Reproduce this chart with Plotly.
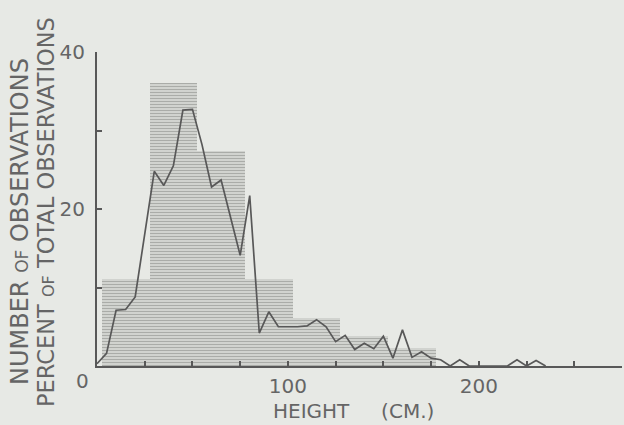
import plotly.graph_objects as go

# Frequency polygon: number of observations per 5 cm height class
height_cm = [0, 5, 10, 15, 20, 25, 30, 35, 40, 45, 50, 55, 60, 65, 70, 75, 80, 85,
             90, 95, 100, 105, 110, 115, 120, 125, 130, 135, 140, 145, 150, 155,
             160, 165, 170, 175, 180, 185, 190, 195, 200, 205, 210, 215, 220, 225,
             230, 235]
observations = [0.3, 1.6, 7.1, 7.2, 8.8, 17.0, 24.8, 23.0, 25.5, 32.6, 32.7, 28.2,
                22.8, 23.7, 18.9, 14.1, 21.7, 4.2, 6.9, 5.0, 5.0, 5.0, 5.1, 5.9,
                5.0, 3.1, 3.9, 2.1, 2.9, 2.2, 3.8, 1.0, 4.6, 1.1, 1.8, 1.0, 0.8,
                0.0, 0.8, 0.0, 0.0, 0.0, 0.0, 0.0, 0.8, 0.0, 0.7, 0.0]

# Histogram: percent of total observations per 25 cm class
class_centers = [15, 40, 65, 90, 115, 140, 165]
class_percent = [11.1, 36.0, 27.4, 11.1, 6.1, 3.8, 2.3]
class_width = 25

x_tick_vals = [0, 25, 50, 75, 100, 125, 150, 175, 200, 225, 250, 275]
x_tick_text = ["", "", "", "", "100", "", "", "", "200", "", "", ""]
y_tick_vals = [0, 10, 20, 30, 40]
y_tick_text = ["", "", "20", "", "40"]

BG = "#e7e9e5"
INK = "#585858"
TEXT = "#656565"
FONT = "DejaVu Sans"
LABEL = dict(family=FONT, color=TEXT)

fig = go.Figure()

fig.add_trace(go.Bar(
    x=class_centers,
    y=class_percent,
    width=[class_width] * len(class_centers),
    marker=dict(
        color=BG,
        line=dict(width=0),
        pattern=dict(shape="-", size=3, solidity=0.45,
                     fgcolor="#7c7d7a", bgcolor="#d9dbd7", fillmode="overlay"),
    ),
    cliponaxis=False,
    showlegend=False,
))

fig.add_trace(go.Scatter(
    x=height_cm,
    y=observations,
    mode="lines",
    line=dict(color=INK, width=1.7),
    cliponaxis=False,
    showlegend=False,
))

fig.update_layout(
    width=624,
    height=425,
    margin=dict(l=97, r=2, t=52, b=59),
    paper_bgcolor=BG,
    plot_bgcolor=BG,
    bargap=0,
    font=dict(size=20, **LABEL),
    xaxis=dict(
        range=[0, 275],
        tickmode="array",
        tickvals=x_tick_vals,
        ticktext=x_tick_text,
        ticks="inside",
        ticklen=5,
        tickwidth=1.5,
        tickcolor=INK,
        showline=True,
        linecolor=INK,
        linewidth=2,
        showgrid=False,
        zeroline=False,
        ticklabelstandoff=1,
        tickfont=dict(size=20, **LABEL),
    ),
    yaxis=dict(
        range=[0, 40],
        tickmode="array",
        tickvals=y_tick_vals,
        ticktext=y_tick_text,
        ticks="inside",
        ticklen=5,
        tickwidth=1.5,
        tickcolor=INK,
        showline=True,
        linecolor=INK,
        linewidth=2,
        showgrid=False,
        zeroline=False,
        ticklabelstandoff=6,
        tickfont=dict(size=20, **LABEL),
    ),
    annotations=[
        # origin label
        dict(x=0, y=0, xref="x", yref="y", text="0", showarrow=False,
             xanchor="right", yanchor="middle", xshift=-6, yshift=-15,
             font=dict(size=20, **LABEL)),
        # x-axis title
        dict(x=(353 - 97) / 525, y=0, xref="paper", yref="paper", yshift=-45,
             text="HEIGHT\u00a0\u00a0\u00a0\u00a0\u00a0(CM.)", showarrow=False,
             xanchor="center", yanchor="middle",
             font=dict(size=20, **LABEL)),
        # y-axis titles, two rotated lines
        dict(x=(20 - 97) / 525, y=(366 - 222) / 314, xref="paper", yref="paper",
             text="NUMBER <span style='font-size:17px'>OF</span> OBSERVATIONS",
             textangle=-90, showarrow=False, xanchor="center", yanchor="middle",
             font=dict(size=24, **LABEL)),
        dict(x=(46 - 97) / 525, y=(366 - 212) / 314, xref="paper", yref="paper",
             text="PERCENT <span style='font-size:16px'>OF</span> TOTAL OBSERVATIONS",
             textangle=-90, showarrow=False, xanchor="center", yanchor="middle",
             font=dict(size=22.5, **LABEL)),
    ],
)

fig.write_html("out.html")
